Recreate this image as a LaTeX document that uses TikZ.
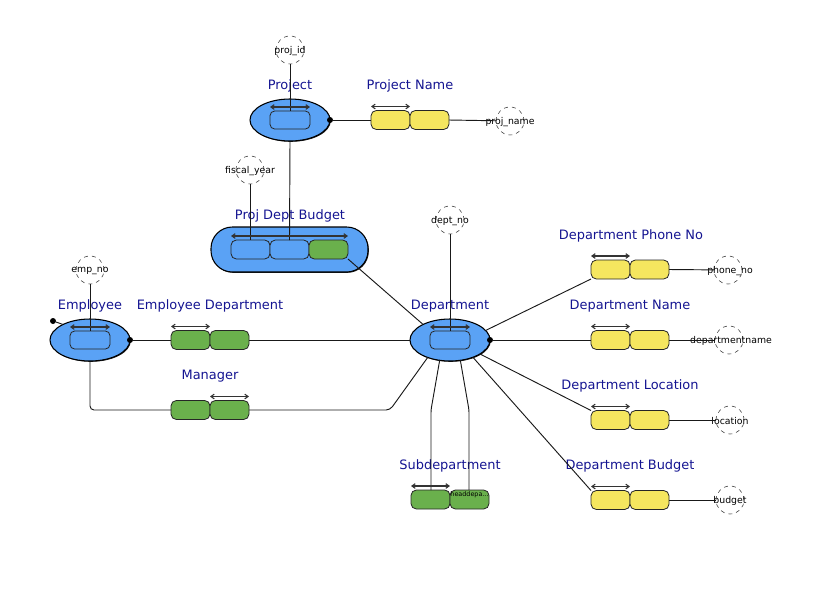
\documentclass[tikz,border=0pt]{standalone}
\usepackage{fontspec}
\setmainfont{DejaVu Sans}
\usetikzlibrary{shapes.geometric,arrows.meta,shadows}
\definecolor{entblue}{HTML}{5AA2F5}
\definecolor{attyel}{HTML}{F5E65F}
\definecolor{attgrn}{HTML}{6AB04C}
\definecolor{lblnavy}{RGB}{20,20,145}
\tikzset{
  ent/.style={ellipse, fill=entblue, draw=black, line width=0.8pt, minimum width=60pt, minimum height=31.5pt, inner sep=0pt, outer sep=0pt, drop shadow={shadow xshift=0.6pt, shadow yshift=-0.6pt, opacity=0.9, fill=black}},
  keybox/.style={rectangle, rounded corners=3.5pt, draw=black!85, line width=0.6pt, fill=entblue, minimum width=30pt, minimum height=13.5pt, inner sep=0pt, outer sep=0pt},
  ybox/.style={rectangle, rounded corners=4pt, draw=black!85, line width=0.6pt, fill=attyel, minimum width=29.25pt, minimum height=14.25pt, inner sep=0pt, outer sep=0pt},
  gbox/.style={ybox, fill=attgrn},
  bbox/.style={ybox, fill=entblue},
  lbl/.style={text=lblnavy, font=\fontsize{9.7}{11}\selectfont, inner sep=0pt},
  circ/.style={circle, draw=black!80, dashed, line width=0.4pt, minimum size=21pt, inner sep=0pt, outer sep=0pt},
  ctext/.style={font=\fontsize{7}{8}\selectfont, inner sep=0pt},
  conn/.style={draw=black!90, line width=0.7pt},
  keyarrow/.style={draw=black!80, line width=0.8pt, {Straight Barb[length=2.5pt,width=3.5pt]}-{Straight Barb[length=2.5pt,width=3.5pt]}},
  dotc/.style={circle, fill=black, inner sep=0pt, minimum size=4.5pt}
}
\begin{document}
\begin{tikzpicture}[x=0.75pt,y=-0.75pt]
\useasboundingbox (0,0) rectangle (820,590);
% ---- circles (attributes) ----
\node[circ] (projid) at (290,50) {};
\node[ctext] (projidt) at (290,51) {proj\_id};
\node[circ] (projname) at (510,121) {};
\node[ctext] (projnamet) at (510,122) {proj\_name};
\node[circ] (fiscal) at (250,170) {};
\node[ctext] (fiscalt) at (250,171) {fiscal\_year};
\node[circ] (deptno) at (450,220) {};
\node[ctext] (deptnot) at (450,221) {dept\_no};
\node[circ] (empno) at (90,270) {};
\node[ctext] (empnot) at (90,271) {emp\_no};
\node[circ] (phone) at (728,270) {};
\node[ctext] (phonet) at (730,271) {phone\_no};
\node[circ] (dname) at (729,340) {};
\node[ctext] (dnamet) at (731,341) {departmentname};
\node[circ] (loc) at (730,420) {};
\node[ctext] (loct) at (730,421) {location};
\node[circ] (bud) at (730,500) {};
\node[ctext] (budt) at (730,501) {budget};
% ---- entities ----
\node[ent] (proj) at (290,120) {};
\node[ent] (dept) at (450,340) {};
\node[ent] (emp) at (90,340) {};
\node[rectangle, rounded corners=16pt, fill=entblue, draw=black, line width=0.8pt, minimum width=117.75pt, minimum height=33.75pt, inner sep=0pt, outer sep=0pt, drop shadow={shadow xshift=0.6pt, shadow yshift=-0.6pt, opacity=0.9, fill=black}] (pdb) at (289.5,249.5) {};
% ---- key boxes ----
\node[keybox] (projk) at (290,120) {};
\node[keybox] (deptk) at (450,340) {};
\node[keybox] (empk) at (90,340) {};
% ---- attribute boxes ----
\node[ybox] (pn1) at (390.5,120) {};
\node[ybox] (pn2) at (429.5,120) {};
\node[bbox] (pd1) at (250.5,249.5) {};
\node[bbox] (pd2) at (289.5,249.5) {};
\node[gbox] (pd3) at (328.5,249.5) {};
\node[ybox] (ph1) at (610.5,269.5) {};
\node[ybox] (ph2) at (649.5,269.5) {};
\node[ybox] (nm1) at (610.5,340) {};
\node[ybox] (nm2) at (649.5,340) {};
\node[ybox] (lo1) at (610.5,420) {};
\node[ybox] (lo2) at (649.5,420) {};
\node[ybox] (bu1) at (610.5,500) {};
\node[ybox] (bu2) at (649.5,500) {};
\node[gbox] (ed1) at (190.5,340) {};
\node[gbox] (ed2) at (229.5,340) {};
\node[gbox] (mg1) at (190.5,410) {};
\node[gbox] (mg2) at (229.5,410) {};
\node[gbox] (sd1) at (430.5,499.5) {};
\node[gbox] (sd2) at (469.5,499.5) {};
\node[font=\fontsize{4.8}{5}\selectfont, inner sep=0pt] (sd2t) at (469.5,494.5) {headdepa...};
% ---- labels ----
\node[lbl] (lproj) at (290,86) {Project};
\node[lbl] (lpn) at (410,86) {Project Name};
\node[lbl] (lpdb) at (290,216) {Proj Dept Budget};
\node[lbl] (ldept) at (450,306) {Department};
\node[lbl] (lemp) at (90,306) {Employee};
\node[lbl] (led) at (210,306) {Employee Department};
\node[lbl] (lmg) at (210,376) {Manager};
\node[lbl] (lsd) at (450,466) {Subdepartment};
\node[lbl] (lph) at (631,236) {Department Phone No};
\node[lbl] (lnm) at (630,306) {Department Name};
\node[lbl] (llo) at (630,386) {Department Location};
\node[lbl] (lbu) at (630,466) {Department Budget};
% ---- dots ----
\node[dotc] (projdot) at (proj.east) {};
\node[dotc] (deptdot) at (dept.east) {};
\node[dotc] (empdot) at (emp.east) {};
\node[dotc] (empdot2) at (53,321) {};
% ---- coordinates ----
\coordinate (e1) at (90,410);
\coordinate (m1) at (390,410);
\coordinate (s1) at (431,410);
\coordinate (s2) at (469,410);
% ---- connectors ----
\draw[conn] (projid) -- (projk.north);
\draw[conn] (projdot) -- (pn1.west);
\draw[conn] (pn2.east) -- (projname);
\draw[conn] (proj.south) -- (pd2.north);
\draw[conn] (fiscal) -- (fiscal |- pd1.north);
\draw[conn] (deptno) -- (deptk.north);
\draw[conn] (empno) -- (empk.north);
\draw[conn] (empdot2) -- (emp.150);
\draw[conn] (empdot) -- (ed1.west);
\draw[conn] (ed2.east) -- (dept.west);
\draw[conn, rounded corners=3pt] (emp.south) -- (e1) -- (mg1.west);
\draw[conn, rounded corners=3pt] (mg2.east) -- (m1) -- (dept.218);
\draw[conn] (pd3.south east) -- (dept.150);
\draw[conn, rounded corners=2pt] (dept.243) -- (s1) -- (s1 |- sd1.north);
\draw[conn, rounded corners=2pt] (dept.297) -- (s2) -- (s2 |- sd2.north);
\draw[conn] (dept.15) -- (ph1.south west);
\draw[conn] (deptdot) -- (nm1.west);
\draw[conn] (dept.335) -- (lo1.north west);
\draw[conn] (dept.323) -- (bu1.north west);
\draw[conn] (ph2.east) -- (phone);
\draw[conn] (nm2.east) -- (dname);
\draw[conn] (lo2.east) -- (loc);
\draw[conn] (bu2.east) -- (bud);
% ---- key arrows ----
\draw[keyarrow] ([yshift=3pt]projk.north west) -- ([yshift=3pt]projk.north east);
\draw[keyarrow] ([yshift=3pt]deptk.north west) -- ([yshift=3pt]deptk.north east);
\draw[keyarrow] ([yshift=3pt]empk.north west) -- ([yshift=3pt]empk.north east);
\draw[keyarrow] ([yshift=3pt]pn1.north west) -- ([yshift=3pt]pn1.north east);
\draw[keyarrow] ([yshift=3pt]pd1.north west) -- ([yshift=3pt]pd3.north east);
\draw[keyarrow] ([yshift=3pt]ph1.north west) -- ([yshift=3pt]ph1.north east);
\draw[keyarrow] ([yshift=3pt]nm1.north west) -- ([yshift=3pt]nm1.north east);
\draw[keyarrow] ([yshift=3pt]lo1.north west) -- ([yshift=3pt]lo1.north east);
\draw[keyarrow] ([yshift=3pt]bu1.north west) -- ([yshift=3pt]bu1.north east);
\draw[keyarrow] ([yshift=3pt]ed1.north west) -- ([yshift=3pt]ed1.north east);
\draw[keyarrow] ([yshift=3pt]mg2.north west) -- ([yshift=3pt]mg2.north east);
\draw[keyarrow] ([yshift=3pt]sd1.north west) -- ([yshift=3pt]sd1.north east);
\end{tikzpicture}
\end{document}
